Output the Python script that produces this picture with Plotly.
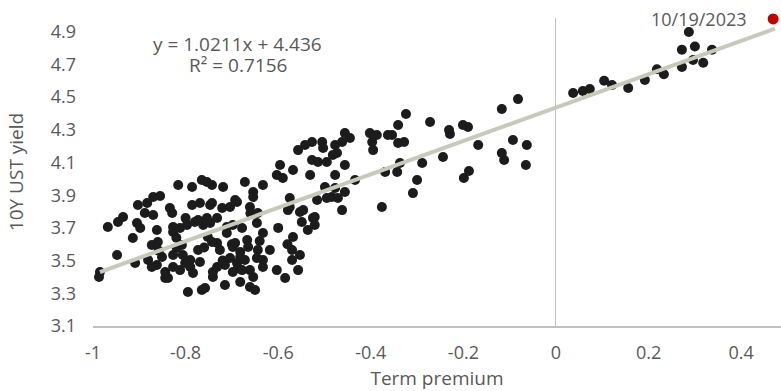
import plotly.graph_objects as go

# Term premium (x) and 10Y UST yield (y)
term_premium = [
    -0.985, -0.987, -0.968, -0.946, -0.935, -0.948, -0.914, -0.909, -0.905, -0.903,
    -0.883, -0.870, -0.855, -0.870, -0.862, -0.873, -0.881, -0.862, -0.873, -0.851,
    -0.844, -0.844, -0.898, -0.888, -0.860, -0.834, -0.829, -0.827, -0.827, -0.827,
    -0.816, -0.786, -0.765, -0.743, -0.719, -0.812, -0.808, -0.819, -0.806, -0.801,
    -0.790, -0.790, -0.795, -0.765, -0.784, -0.812, -0.827, -0.838, -0.797, -0.780,
    -0.786, -0.769, -0.747, -0.773, -0.747, -0.752, -0.773, -0.769, -0.732, -0.732,
    -0.715, -0.743, -0.726, -0.754, -0.732, -0.762, -0.741, -0.741, -0.758, -0.754,
    -0.672, -0.654, -0.633, -0.704, -0.689, -0.721, -0.743, -0.661, -0.644, -0.711,
    -0.698, -0.678, -0.711, -0.698, -0.682, -0.687, -0.667, -0.661, -0.650, -0.693,
    -0.682, -0.665, -0.644, -0.704, -0.689, -0.672, -0.646, -0.715, -0.698, -0.678,
    -0.661, -0.654, -0.682, -0.633, -0.633, -0.633, -0.618, -0.654, -0.646, -0.693,
    -0.603, -0.596, -0.590, -0.568, -0.557, -0.542, -0.527, -0.531, -0.527, -0.514,
    -0.575, -0.575, -0.553, -0.549, -0.536, -0.525, -0.568, -0.570, -0.553, -0.570,
    -0.557, -0.585, -0.603, -0.579, -0.546, -0.521, -0.516, -0.521, -0.505, -0.503,
    -0.477, -0.473, -0.482, -0.495, -0.456, -0.477, -0.434, -0.456, -0.445, -0.462,
    -0.402, -0.397, -0.387, -0.363, -0.395, -0.341, -0.341, -0.324, -0.369, -0.343,
    -0.499, -0.477, -0.484, -0.471, -0.456, -0.462, -0.495, -0.376, -0.337, -0.309,
    -0.300, -0.289, -0.328, -0.354, -0.272, -0.244, -0.231, -0.229, -0.201, -0.190,
    -0.168, -0.188, -0.199, -0.117, -0.082, -0.093, -0.063, -0.117, -0.112, -0.065,
    0.037, 0.058, 0.073, 0.104, 0.121, 0.156, 0.192, 0.218, 0.233, 0.272,
    0.272, 0.287, 0.300, 0.296, 0.318, 0.337,
    -0.858, -0.820, -0.760, -0.700, -0.640, -0.600, -0.800, -0.720, -0.660, -0.580,
]
ust_yield = [
    3.430, 3.400, 3.706, 3.736, 3.767, 3.534, 3.638, 3.485, 3.730, 3.840,
    3.852, 3.889, 3.895, 3.779, 3.687, 3.595, 3.504, 3.473, 3.461, 3.522,
    3.430, 3.394, 3.699, 3.791, 3.614, 3.822, 3.791, 3.706, 3.675, 3.534,
    3.962, 3.950, 3.993, 3.962, 3.950, 3.699, 3.595, 3.577, 3.534, 3.485,
    3.504, 3.461, 3.308, 3.320, 3.424, 3.442, 3.461, 3.394, 3.718, 3.736,
    3.840, 3.852, 3.840, 3.748, 3.730, 3.644, 3.565, 3.491, 3.608, 3.461,
    3.351, 3.614, 3.565, 3.761, 3.761, 3.718, 3.430, 3.400, 3.332, 3.981,
    3.981, 3.920, 3.962, 3.828, 3.858, 3.822, 3.852, 3.828, 3.791, 3.706,
    3.718, 3.699, 3.669, 3.583, 3.522, 3.455, 3.626, 3.339, 3.320, 3.608,
    3.553, 3.583, 3.565, 3.516, 3.485, 3.504, 3.516, 3.473, 3.430, 3.442,
    3.442, 3.400, 3.369, 3.669, 3.504, 3.461, 3.565, 3.889, 3.730, 3.871,
    4.024, 4.085, 4.005, 4.054, 4.176, 4.207, 4.225, 4.024, 4.115, 4.103,
    3.883, 3.828, 3.797, 3.736, 3.687, 3.761, 3.644, 3.565, 3.534, 3.504,
    3.442, 3.394, 3.442, 3.809, 3.809, 3.767, 3.871, 3.718, 4.225, 4.189,
    4.207, 4.158, 4.146, 4.103, 4.085, 4.024, 3.993, 4.280, 4.250, 4.225,
    4.280, 4.225, 4.268, 4.268, 4.176, 4.329, 4.219, 4.397, 4.042, 4.042,
    3.950, 3.944, 3.889, 3.883, 3.920, 3.809, 3.883, 3.828, 4.097, 3.913,
    3.993, 4.097, 4.225, 4.268, 4.348, 4.134, 4.299, 4.274, 4.329, 4.317,
    4.207, 4.048, 4.005, 4.427, 4.488, 4.238, 4.207, 4.158, 4.115, 4.085,
    4.525, 4.537, 4.550, 4.600, 4.574, 4.556, 4.605, 4.670, 4.640, 4.790,
    4.684, 4.898, 4.810, 4.727, 4.710, 4.790,
    3.560, 3.640, 3.580, 3.600, 3.620, 3.700, 3.760, 3.500, 3.790, 3.600,
]

latest_label = "10/19/2023"
latest_x = [0.469]
latest_y = [4.978]

slope = 1.0211
intercept = 4.436
trend_x = [-0.985, 0.473]
trend_y = [slope * v + intercept for v in trend_x]

x_ticks = [-1, -0.8, -0.6, -0.4, -0.2, 0, 0.2, 0.4]
x_tick_text = ["-1", "-0.8", "-0.6", "-0.4", "-0.2", "0", "0.2", "0.4"]
y_ticks = [3.1, 3.3, 3.5, 3.7, 3.9, 4.1, 4.3, 4.5, 4.7, 4.9]
y_tick_text = ["3.1", "3.3", "3.5", "3.7", "3.9", "4.1", "4.3", "4.5", "4.7", "4.9"]

FONT = "Open Sans"
GREY = "#595959"

fig = go.Figure()
fig.add_trace(go.Scatter(
    x=term_premium, y=ust_yield, mode="markers",
    marker=dict(size=10, color="#1c1c1c"),
    showlegend=False, hoverinfo="skip",
))
fig.add_trace(go.Scatter(
    x=trend_x, y=trend_y, mode="lines",
    line=dict(color="#c8c8bb", width=4),
    showlegend=False, hoverinfo="skip",
))
fig.add_trace(go.Scatter(
    x=latest_x, y=latest_y, mode="markers",
    marker=dict(size=11, color="#c00000"),
    cliponaxis=False, showlegend=False, hoverinfo="skip",
))

fig.add_annotation(
    x=latest_x[0], y=latest_y[0], text=latest_label, showarrow=False,
    xanchor="right", yanchor="middle", xshift=-24,
    font=dict(family=FONT, size=18, color=GREY),
)
fig.add_annotation(
    x=-0.687, y=4.825, text=f"y = {slope}x + {intercept}", showarrow=False,
    xanchor="center", yanchor="middle",
    font=dict(family=FONT, size=19, color=GREY),
)
fig.add_annotation(
    x=-0.687, y=4.696, text="R² = 0.7156", showarrow=False,
    xanchor="center", yanchor="middle",
    font=dict(family=FONT, size=19, color=GREY),
)

fig.update_layout(
    width=781, height=391,
    margin=dict(l=93, r=0, t=18, b=65),
    paper_bgcolor="white", plot_bgcolor="white",
    font=dict(family=FONT, size=18, color=GREY),
    xaxis=dict(
        range=[-1, 0.486], tickvals=x_ticks, ticktext=x_tick_text,
        showgrid=False, zeroline=True, zerolinecolor="#c0c0c0", zerolinewidth=1,
        showline=True, linecolor="#c0c0c0", linewidth=1.5,
        ticks="", ticklabelstandoff=10,
        tickfont=dict(family=FONT, size=18, color=GREY),
        title=dict(text="Term premium", font=dict(family=FONT, size=19, color=GREY), standoff=8),
    ),
    yaxis=dict(
        range=[3.1, 4.984], tickvals=y_ticks, ticktext=y_tick_text,
        showgrid=False, zeroline=False, showline=False,
        ticks="", ticklabelstandoff=16,
        tickfont=dict(family=FONT, size=18, color=GREY),
        title=dict(text="10Y UST yield", font=dict(family=FONT, size=19, color=GREY), standoff=22),
    ),
)

# remove the default page margin so the figure fills the window exactly
fig.write_html(
    "out.html",
    config={"displayModeBar": False},
    post_script="document.body.style.margin='0';document.body.style.overflow='hidden';",
)
